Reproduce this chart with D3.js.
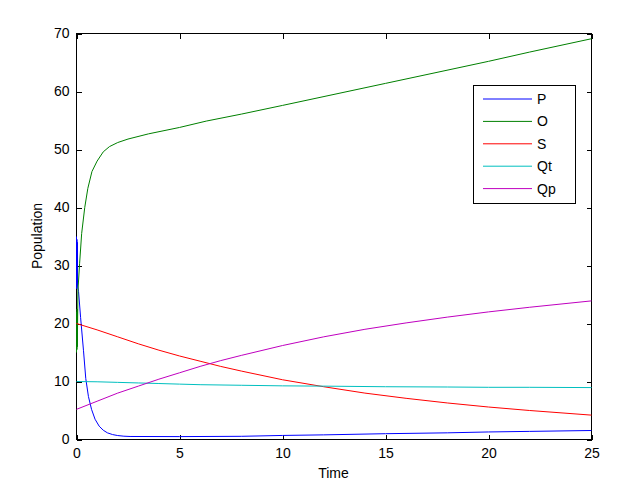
<!DOCTYPE html>
<html>
<head>
<meta charset="utf-8">
<script src="https://cdn.jsdelivr.net/npm/d3@7"></script>
<style>
  html, body { margin: 0; padding: 0; background: #fff; }
  svg { display: block; }
  text { font-family: "Liberation Sans", Arial, sans-serif; fill: #000; }
</style>
</head>
<body>
<svg id="chart" width="628" height="502"></svg>
<script>
// ---- data ----
const seriesNames = ["P", "O", "S", "Qt", "Qp"];
const seriesColors = ["#0000ff", "#008000", "#ff0000", "#00bfbf", "#bf00bf"];

const tP = [0, 0.01, 0.02, 0.03, 0.04, 0.05, 0.1, 0.2, 0.34, 0.45, 0.58, 0.73, 0.9, 1.1, 1.3, 1.5, 1.75, 2.0, 2.3, 2.6, 5, 8, 10, 12, 15, 18, 20, 22, 25];
const P  = [35, 26, 34.5, 26.5, 34, 26.5, 25.5, 21, 15.3, 10.5, 7.4, 5.2, 3.5, 2.3, 1.6, 1.15, 0.85, 0.68, 0.57, 0.52, 0.5, 0.55, 0.7, 0.8, 1.0, 1.15, 1.3, 1.4, 1.55];

const tO = [0, 0.01, 0.02, 0.03, 0.04, 0.07, 0.15, 0.25, 0.4, 0.55, 0.75, 1.0, 1.3, 1.6, 2.0, 2.5, 3.5, 5, 6.3, 8, 10, 12.5, 15, 17.5, 20, 22, 25];
const O  = [15, 22, 15.5, 22.5, 16, 25.7, 30.3, 35.5, 40, 43.3, 46.2, 48.0, 49.6, 50.5, 51.2, 51.8, 52.7, 53.8, 54.9, 56.1, 57.6, 59.5, 61.4, 63.3, 65.2, 66.8, 69.1];

const tS = [0, 1, 2, 3, 4, 5, 6, 7, 8, 10, 12, 14, 16, 18, 20, 22, 25];
const S  = [20, 18.9, 17.7, 16.5, 15.4, 14.4, 13.5, 12.6, 11.8, 10.3, 9.1, 8.0, 7.1, 6.3, 5.6, 5.0, 4.2];

const tQt = [0, 1, 2, 3, 4, 5, 6, 8, 10, 12, 15, 18, 20, 22, 25];
const Qt  = [10, 9.95, 9.85, 9.75, 9.65, 9.55, 9.45, 9.35, 9.25, 9.2, 9.1, 9.05, 9.0, 9.0, 8.95];

const tQp = [0, 1, 2, 3, 4, 5, 6, 7, 8, 10, 12, 14, 16, 18, 20, 22, 25];
const Qp  = [5.2, 6.6, 8.0, 9.2, 10.4, 11.5, 12.6, 13.6, 14.5, 16.2, 17.7, 19.0, 20.1, 21.1, 22.0, 22.8, 23.9];

const xTicks = [0, 5, 10, 15, 20, 25];
const yTicks = [0, 10, 20, 30, 40, 50, 60, 70];
const xLabel = "Time";
const yLabel = "Population";

// ---- layout ----
const L = 76, R = 591, T = 33, B = 439;
const svg = d3.select("#chart");

const x = d3.scaleLinear().domain([0, 25]).range([L + 0.5, R + 0.5]);
const y = d3.scaleLinear().domain([0, 70]).range([B + 0.5, T + 0.5]);

const series = [
  { t: tP, v: P }, { t: tO, v: O }, { t: tS, v: S }, { t: tQt, v: Qt }, { t: tQp, v: Qp }
];

// axes via d3 axis generators (inward ticks, MATLAB style)
const tickLen = 5;
const fontSize = 14;
const axB = svg.append("g").attr("transform", `translate(0,${B + 0.5})`)
  .call(d3.axisBottom(x).tickValues(xTicks).tickSize(-tickLen).tickPadding(9).tickFormat(d3.format("d")));
const axT = svg.append("g").attr("transform", `translate(0,${T + 0.5})`)
  .call(d3.axisTop(x).tickValues(xTicks).tickSize(-tickLen).tickFormat(""));
const axL = svg.append("g").attr("transform", `translate(${L + 0.5},0)`)
  .call(d3.axisLeft(y).tickValues(yTicks).tickSize(-tickLen).tickPadding(7).tickFormat(d3.format("d")));
const axRt = svg.append("g").attr("transform", `translate(${R + 0.5},0)`)
  .call(d3.axisRight(y).tickValues(yTicks).tickSize(-tickLen).tickFormat(""));

[axB, axT, axL, axRt].forEach(a => {
  a.select(".domain").remove();
  a.selectAll(".tick line").attr("stroke", "#000").attr("shape-rendering", "crispEdges");
  a.selectAll(".tick text").attr("font-size", fontSize).attr("font-family", "Liberation Sans, Arial, sans-serif").attr("fill", "#000");
});

// frame
svg.append("rect").attr("x", L + 0.5).attr("y", T + 0.5)
  .attr("width", R - L).attr("height", B - T)
  .attr("fill", "none").attr("stroke", "#000").attr("stroke-width", 1)
  .attr("shape-rendering", "crispEdges");

// data lines drawn above the axes box (MATLAB default layer)
svg.append("defs").append("clipPath").attr("id", "clip")
  .append("rect").attr("x", L).attr("y", T).attr("width", R - L + 1).attr("height", B - T + 1);

const line = d3.line().x(d => x(d[0])).y(d => y(d[1]));
const g = svg.append("g").attr("clip-path", "url(#clip)");
series.forEach((s, i) => {
  const pts = s.t.map((t, k) => [t, s.v[k]]);
  g.append("path").datum(pts)
    .attr("d", line)
    .attr("fill", "none")
    .attr("stroke", seriesColors[i])
    .attr("stroke-width", 1);
});

// axis labels
svg.append("text").attr("x", (L + R) / 2).attr("y", 478)
  .attr("text-anchor", "middle").attr("font-size", fontSize).text(xLabel);
svg.append("text").attr("transform", `translate(42,${(T + B) / 2}) rotate(-90)`)
  .attr("text-anchor", "middle").attr("font-size", fontSize).text(yLabel);

// legend
const lgX = 473, lgY = 85, lgW = 102, lgH = 118;
const lg = svg.append("g");
lg.append("rect").attr("x", lgX + 0.5).attr("y", lgY + 0.5).attr("width", lgW).attr("height", lgH)
  .attr("fill", "#fff").attr("stroke", "#000").attr("shape-rendering", "crispEdges");
seriesNames.forEach((name, i) => {
  const yy = 99 + i * 22.4;
  lg.append("line").attr("x1", 483).attr("x2", 532).attr("y1", yy).attr("y2", yy)
    .attr("stroke", seriesColors[i]).attr("stroke-width", 1);
  lg.append("text").attr("x", 537).attr("y", yy).attr("dy", "0.35em")
    .attr("font-size", fontSize).text(name);
});
</script>
</body>
</html>
